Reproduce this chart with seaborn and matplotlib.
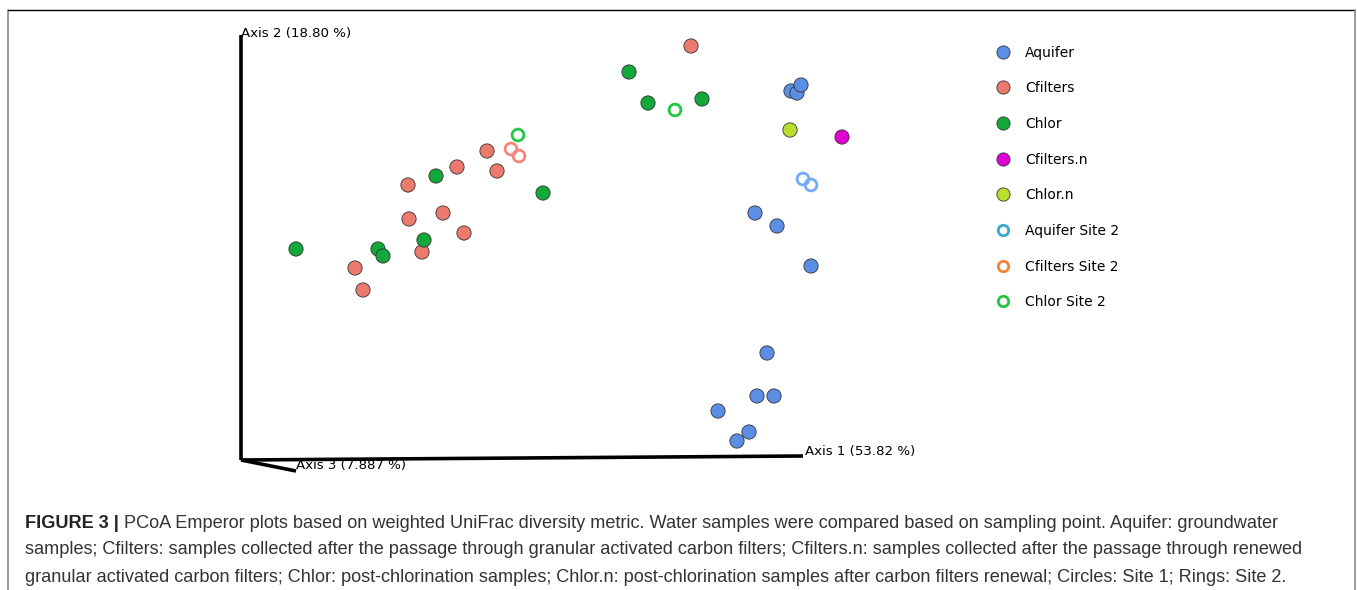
import matplotlib
matplotlib.use('Agg')
import matplotlib.pyplot as plt
from matplotlib.lines import Line2D
import seaborn as sns
import pandas as pd

# %%
# PCoA coordinates (screen units, origin at the axes corner)
aquifer_x = [5.50, 5.56, 5.60, 5.14, 5.36, 5.70, 5.26, 5.16, 5.33, 4.77, 5.08, 4.96]
aquifer_y = [3.69, 3.67, 3.75, 2.47, 2.34, 1.94, 1.07, 0.64, 0.64, 0.49, 0.28, 0.19]
cfilters_x = [4.50, 2.46, 2.16, 2.56, 1.67, 2.02, 1.68, 2.23, 1.81, 1.14, 1.22]
cfilters_y = [4.14, 3.09, 2.93, 2.89, 2.75, 2.47, 2.41, 2.27, 2.08, 1.92, 1.70]
chlor_x = [3.88, 4.07, 4.61, 1.95, 3.02, 0.55, 1.37, 1.42, 1.83]
chlor_y = [3.88, 3.57, 3.61, 2.84, 2.67, 2.11, 2.11, 2.04, 2.20]
cfilters_n_x = [6.01]
cfilters_n_y = [3.23]
chlor_n_x = [5.49]
chlor_n_y = [3.30]
aquifer2_x = [5.62, 5.70]
aquifer2_y = [2.81, 2.75]
cfilters2_x = [2.70, 2.78]
cfilters2_y = [3.11, 3.04]
chlor2_x = [4.34, 2.77]
chlor2_y = [3.50, 3.25]

groups = ['Aquifer', 'Cfilters', 'Chlor', 'Cfilters.n', 'Chlor.n']
rings = ['Aquifer Site 2', 'Cfilters Site 2', 'Chlor Site 2']
fill_colors = ['#5b8fe6', '#ec7a6e', '#13a83a', '#e000d2', '#b8df2c']
ring_colors = ['#72aaf6', '#f5857c', '#20c845']
legend_ring_colors = ['#3aa7d2', '#f3823a', '#22c43f']

axis_labels = ['Axis 1 (53.82 %)', 'Axis 2 (18.80 %)', 'Axis 3 (7.887 %)']

caption_bold = 'FIGURE 3 |'
caption_lines = [
    'PCoA Emperor plots based on weighted UniFrac diversity metric. Water samples were compared based on sampling point. Aquifer: groundwater',
    'samples; Cfilters: samples collected after the passage through granular activated carbon filters; Cfilters.n: samples collected after the passage through renewed',
    'granular activated carbon filters; Chlor: post-chlorination samples; Chlor.n: post-chlorination samples after carbon filters renewal; Circles: Site 1; Rings: Site 2.',
]

# %%
filled = pd.concat([
    pd.DataFrame({'x': aquifer_x, 'y': aquifer_y, 'group': 'Aquifer'}),
    pd.DataFrame({'x': cfilters_x, 'y': cfilters_y, 'group': 'Cfilters'}),
    pd.DataFrame({'x': chlor_x, 'y': chlor_y, 'group': 'Chlor'}),
    pd.DataFrame({'x': cfilters_n_x, 'y': cfilters_n_y, 'group': 'Cfilters.n'}),
    pd.DataFrame({'x': chlor_n_x, 'y': chlor_n_y, 'group': 'Chlor.n'}),
])
ringed = pd.concat([
    pd.DataFrame({'x': aquifer2_x, 'y': aquifer2_y, 'group': 'Aquifer Site 2'}),
    pd.DataFrame({'x': cfilters2_x, 'y': cfilters2_y, 'group': 'Cfilters Site 2'}),
    pd.DataFrame({'x': chlor2_x, 'y': chlor2_y, 'group': 'Chlor Site 2'}),
])

# %%
sns.set_style('white')
plt.rcParams['font.family'] = ['DejaVu Sans']
plt.rcParams['text.color'] = 'black'

fig = plt.figure(figsize=(13.57, 5.90), dpi=100)
ax = fig.add_axes([0, 0, 1, 1])
ax.set_xlim(-2.41, 11.16)
ax.set_ylim(-1.30, 4.60)
ax.axis('off')

# frame round the whole figure
ax.plot([-2.33, -2.33], [-1.30, 4.50], color='#888888', lw=1.2)
ax.plot([-2.33, 11.14], [4.50, 4.50], color='black', lw=1.0)
ax.plot([11.14, 11.14], [-1.30, 4.50], color='#888888', lw=1.2)

# the three PCoA axes
ax.plot([0, 0], [0, 4.25], color='black', lw=2.6, solid_capstyle='butt')
ax.plot([0, 5.62], [0, 0.04], color='black', lw=2.6, solid_capstyle='butt')
ax.plot([0, 0.55], [0, -0.11], color='black', lw=2.6, solid_capstyle='butt')
ax.text(0.0, 4.27, axis_labels[1], fontsize=9.6, va='center', ha='left', color='black')
ax.text(5.64, 0.08, axis_labels[0], fontsize=9.6, va='center', ha='left', color='black')
ax.text(0.55, -0.06, axis_labels[2], fontsize=9.6, va='center', ha='left', color='black')

sns.scatterplot(data=filled, x='x', y='y', hue='group', hue_order=groups,
                palette=fill_colors, s=105, linewidth=0.6, edgecolor='#333333',
                legend=False, ax=ax, zorder=3)
sns.scatterplot(data=ringed, x='x', y='y', hue='group', hue_order=rings,
                palette=ring_colors, s=72, marker='o',
                linewidth=2.0, legend=False, ax=ax, zorder=3)
ring_coll = ax.collections[-1]
ring_coll.set_facecolor('none')
ring_coll.set_edgecolor([ring_colors[rings.index(g)] for g in ringed['group']])

handles = [Line2D([], [], marker='o', ls='', markersize=9.5, markerfacecolor=c,
                  markeredgecolor='#333333', markeredgewidth=0.6) for c in fill_colors]
handles += [Line2D([], [], marker='o', ls='', markersize=7.5, markerfacecolor='none',
                   markeredgecolor=c, markeredgewidth=2.0) for c in legend_ring_colors]
leg = ax.legend(handles, groups + rings, loc='upper left', bbox_to_anchor=(0.725, 0.932),
                frameon=False, fontsize=10, labelspacing=1.56, handletextpad=0.55,
                borderaxespad=0)
for txt in leg.get_texts():
    txt.set_color('black')

# %%
cap_font = 'Liberation Sans'
cap_size = 13.1
cap_y = [-0.63, -0.90, -1.17]
t = ax.text(-2.16, cap_y[0], caption_bold + ' ', fontsize=cap_size, fontweight='bold',
            family=cap_font, color='#222222', va='center', ha='left')
ax.annotate(caption_lines[0], xy=(1, 0.5), xycoords=t, va='center', ha='left',
            fontsize=cap_size, family=cap_font, color='#333333')
for line, yy in zip(caption_lines[1:], cap_y[1:]):
    ax.text(-2.16, yy, line, fontsize=cap_size, family=cap_font, color='#333333',
            va='center', ha='left')

fig.savefig('out.png', dpi=100)
